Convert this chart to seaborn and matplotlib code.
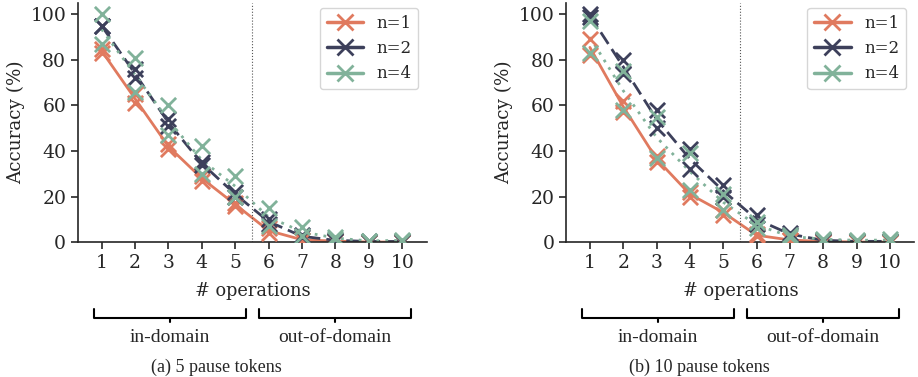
import numpy as np
import pandas as pd
import matplotlib
matplotlib.use("Agg")
import matplotlib.pyplot as plt
import matplotlib.transforms as mtransforms
from matplotlib.lines import Line2D
import seaborn as sns

sns.set_theme(style="ticks")
plt.rcParams["font.family"] = ["DejaVu Serif"]

# data: two runs per setting, accuracy (%) vs number of operations
ops = list(range(1, 11))
series = ["n=1", "n=2", "n=4"]
colors = ["#e07a5f", "#3d405b", "#81b29a"]

# (a) 5 pause tokens
p5_n1 = [[83, 61, 41, 27, 16, 4, 1, 0.5, 0, 0],
         [85, 65, 43, 29, 17, 6, 1, 0.3, 0, 0]]
p5_n2 = [[95, 76, 54, 35, 22, 10, 3, 1, 0.3, 0.3],
         [95, 72, 51, 34, 20, 8, 2, 0.5, 0.2, 0.2]]
p5_n4 = [[100, 81, 60, 42, 29, 15, 6.5, 2, 0.5, 1],
         [87, 66, 47, 30, 20, 7, 2.5, 1.5, 0.5, 0.5]]

# (b) 10 pause tokens
p10_n1 = [[89, 62, 38, 22, 14, 3.5, 1, 0.3, 0, 0],
          [82, 57, 35, 20, 12, 2.5, 0.8, 0.2, 0, 0]]
p10_n2 = [[100, 80, 58, 41, 25, 12, 4, 1, 0.3, 0.3],
          [99, 74, 50, 32, 20, 8, 3, 0.5, 0.3, 0.3]]
p10_n4 = [[97, 75, 55, 39, 21, 9, 3, 1.5, 1, 1.5],
          [83, 58, 37, 23, 14, 6, 2, 1, 0.5, 0.3]]

panels = [("(a) 5 pause tokens", [p5_n1, p5_n2, p5_n4]),
          ("(b) 10 pause tokens", [p10_n1, p10_n2, p10_n4])]


def to_frame(runs_per_series):
    rows = []
    for name, runs in zip(series, runs_per_series):
        for r, vals in enumerate(runs):
            for x, v in zip(ops, vals):
                rows.append({"ops": x, "acc": v, "n": name, "run": r})
    return pd.DataFrame(rows)


fig = plt.figure(figsize=(9.18, 3.77), dpi=100)
ax_pos = [[0.085, 0.358, 0.380, 0.634], [0.617, 0.358, 0.379, 0.634]]
caption_x = [0.236, 0.762]
pal = dict(zip(series, colors))
dashes = {"n=1": "", "n=2": (5, 2.2), "n=4": (1, 2.2)}

for i, (caption, data) in enumerate(panels):
    ax = fig.add_axes(ax_pos[i])
    df = to_frame(data)
    sns.lineplot(data=df, x="ops", y="acc", hue="n", style="n", palette=pal,
                 dashes=dashes, errorbar=None, linewidth=2, legend=False, ax=ax)
    for name in series:
        sub = df[df["n"] == name]
        ax.scatter(sub["ops"], sub["acc"], marker="x", s=120, linewidths=2,
                   color=pal[name], zorder=3)
    ax.axvline(5.5, color="#555555", linestyle=":", linewidth=0.8)
    ax.set_ylim(0, 105)
    ax.set_xticks(ops)
    ax.set_yticks([0, 20, 40, 60, 80, 100])
    ax.tick_params(labelsize=13.5, length=5, width=1.2)
    ax.set_xlabel("# operations", fontsize=12.8, labelpad=7)
    ax.set_ylabel("Accuracy (%)", fontsize=13.2)
    for sp in ax.spines.values():
        sp.set_linewidth(1.2)
    sns.despine(ax=ax)

    handles = [Line2D([], [], color=c, marker="x", markersize=11, markeredgewidth=2,
                      linewidth=2.5) for c in colors]
    ax.legend(handles, series, loc="upper right", fontsize=12, frameon=True,
              handlelength=2.2, labelspacing=0.5, borderaxespad=0.3,
              bbox_to_anchor=(0.99, 1.0))

    # domain brackets below the x axis
    trans = mtransforms.blended_transform_factory(ax.transData, ax.transAxes)
    for (x0, x1), label in [((0.77, 5.32), "in-domain"), ((5.72, 10.26), "out-of-domain")]:
        xm = (x0 + x1) / 2
        ax.plot([x0, x0, x1, x1], [-0.28, -0.318, -0.318, -0.28], color="black",
                linewidth=1.5, transform=trans, clip_on=False)
        ax.plot([xm, xm], [-0.318, -0.336], color="black", linewidth=1.5,
                transform=trans, clip_on=False)
        ax.text(xm, -0.398, label, ha="center", va="center", fontsize=14,
                family=["Liberation Serif"], transform=trans)

    fig.text(caption_x[i], 1 - 367 / 377, caption, ha="center", va="center",
             fontsize=13, family=["Liberation Serif"])

fig.savefig("out.png", dpi=100)
